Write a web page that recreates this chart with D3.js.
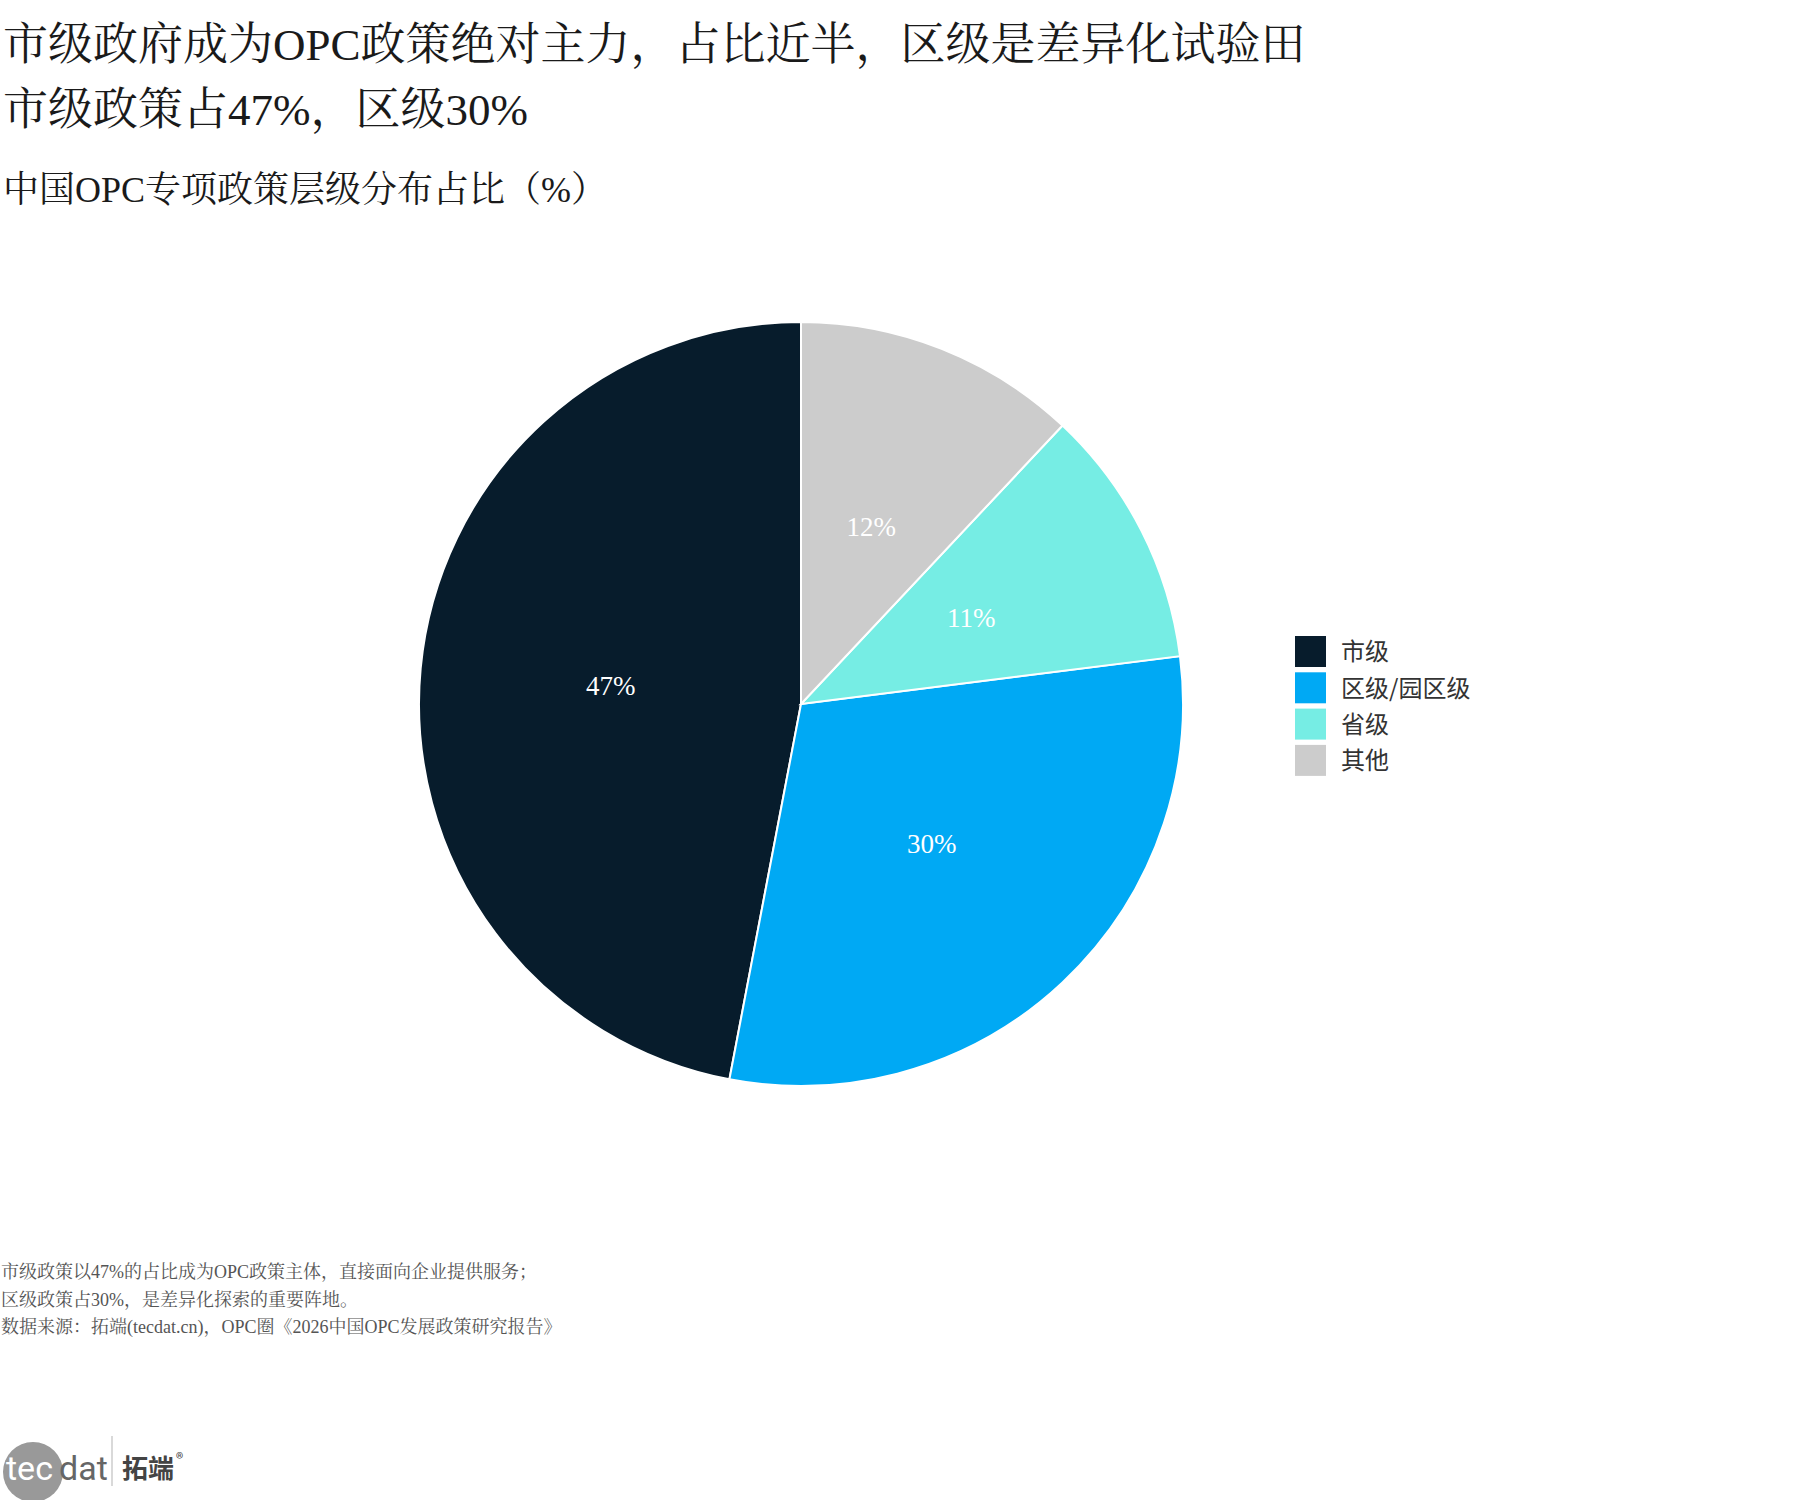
<!DOCTYPE html>
<html>
<head>
<meta charset="utf-8">
<script src="https://cdn.jsdelivr.net/npm/d3@7"></script>
<style>
  body { margin: 0; background: #fff; }
  svg text { font-family: "Liberation Serif", "Noto Serif CJK SC", "Noto Sans CJK SC", serif; }
  .sans { font-family: "Noto Sans CJK SC", "Noto Sans", sans-serif !important; }
</style>
</head>
<body>
<div id="chart"></div>
<script>
// data
const levels = ['市级', '区级/园区级', '省级', '其他'];
const shares = [47, 30, 11, 12];
const colors = ['#071c2c', '#00a9f4', '#76ede4', '#cccccc'];

const titleLines = ['市级政府成为OPC政策绝对主力，占比近半，区级是差异化试验田', '市级政策占47%，区级30%'];
const subtitle = '中国OPC专项政策层级分布占比（%）';
const notes = [
    '市级政策以47%的占比成为OPC政策主体，直接面向企业提供服务；',
    '区级政策占30%，是差异化探索的重要阵地。',
    '数据来源：拓端(tecdat.cn)，OPC圈《2026中国OPC发展政策研究报告》'
];

const W = 1800, H = 1500;
const cx = 801, cy = 704, radius = 382;

const svg = d3.select('#chart').append('svg')
    .attr('width', W)
    .attr('height', H);

// titles
svg.selectAll('.title')
    .data(titleLines)
    .enter().append('text')
    .attr('class', 'title')
    .attr('x', 3)
    .attr('y', (d, i) => 60 + i * 65)
    .style('font-size', '45px')
    .attr('fill', '#1a1a1a')
    .text(d => d);

svg.append('text')
    .attr('x', 3)
    .attr('y', 202)
    .style('font-size', '36px')
    .attr('fill', '#1a1a1a')
    .text(subtitle);

// pie, counterclockwise from 12 o'clock
const data = levels.map((name, i) => ({name, value: shares[i], color: colors[i]}));
const pie = d3.pie()
    .sort(null)
    .value(d => d.value)
    .startAngle(0)
    .endAngle(-2 * Math.PI);

const arc = d3.arc().innerRadius(0).outerRadius(radius);
const labelArc = d3.arc().innerRadius(radius * 0.5).outerRadius(radius * 0.5);

const g = svg.append('g')
    .attr('transform', `translate(${cx},${cy})`);

const arcs = pie(data);

g.selectAll('path')
    .data(arcs)
    .enter().append('path')
    .attr('d', arc)
    .attr('fill', d => d.data.color)
    .attr('stroke', '#fff')
    .attr('stroke-width', 2);

g.selectAll('.pct')
    .data(arcs)
    .enter().append('text')
    .attr('class', 'pct')
    .attr('transform', d => `translate(${labelArc.centroid(d)})`)
    .attr('text-anchor', 'middle')
    .attr('dy', '0.35em')
    .style('font-size', '27px')
    .attr('fill', '#fff')
    .text(d => `${d.data.value}%`);

// legend
const legend = svg.append('g')
    .attr('transform', 'translate(1295,636)');

const item = legend.selectAll('.item')
    .data(data)
    .enter().append('g')
    .attr('class', 'item')
    .attr('transform', (d, i) => `translate(0,${i * 36.3})`);

item.append('rect')
    .attr('width', 31)
    .attr('height', 31)
    .attr('fill', d => d.color);

item.append('text')
    .attr('class', 'sans')
    .attr('x', 46)
    .attr('y', 16)
    .attr('dy', '0.35em')
    .style('font-size', '24px')
    .attr('fill', '#333')
    .text(d => d.name);

// notes
svg.selectAll('.note')
    .data(notes)
    .enter().append('text')
    .attr('class', 'note')
    .attr('x', 1)
    .attr('y', (d, i) => 1278 + i * 27.5)
    .style('font-size', '18px')
    .attr('fill', '#555')
    .text(d => d);

// logo
const logo = svg.append('g');
logo.append('circle')
    .attr('cx', 33)
    .attr('cy', 1472)
    .attr('r', 30)
    .attr('fill', '#999');
logo.append('text')
    .attr('x', 6)
    .attr('y', 1480)
    .style('font-size', '34px')
    .style('font-family', 'Roboto, sans-serif')
    .attr('fill', '#fff')
    .text('tec');
logo.append('text')
    .attr('x', 59)
    .attr('y', 1480)
    .style('font-size', '34px')
    .style('font-family', 'Roboto, sans-serif')
    .attr('fill', '#666')
    .text('dat');
logo.append('line')
    .attr('x1', 112).attr('x2', 112)
    .attr('y1', 1436).attr('y2', 1486)
    .attr('stroke', '#ccc')
    .attr('stroke-width', 1.5);
logo.append('text')
    .attr('class', 'sans')
    .attr('x', 122)
    .attr('y', 1478)
    .style('font-size', '26px')
    .style('font-weight', 'bold')
    .attr('fill', '#444')
    .text('拓端');
logo.append('text')
    .attr('class', 'sans')
    .attr('x', 176)
    .attr('y', 1464)
    .style('font-size', '15px')
    .attr('fill', '#444')
    .text('®');
</script>
</body>
</html>
